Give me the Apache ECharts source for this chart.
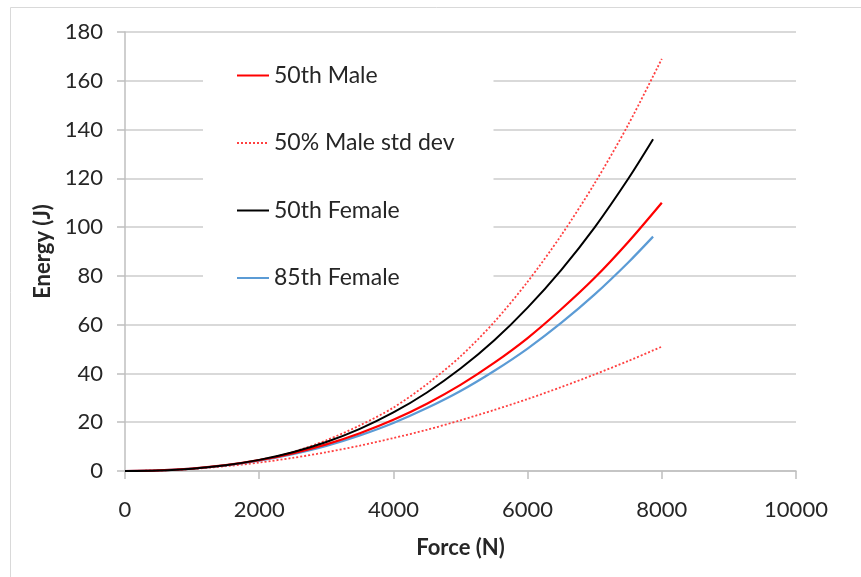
<!DOCTYPE html>
<html>
<head>
<meta charset="utf-8">
<script src="https://cdn.jsdelivr.net/npm/echarts@6/dist/echarts.min.js"></script>
<style>
html,body{margin:0;padding:0;background:#fff;}
#chart{width:861px;height:577px;}
</style>
</head>
<body>
<div id="chart"></div>
<script>
// Force (N) sample points
const forceMale = [0,500,1000,1500,2000,2500,3000,3500,4000,4500,5000,5500,6000,6500,7000,7500,8000];
const forceFemale = [0,500,1000,1500,2000,2500,3000,3500,4000,4500,5000,5500,6000,6500,7000,7500,7870];
// Energy (J) values
const male50 = [0,0.24,1.01,2.38,4.44,7.25,10.9,15.5,21.0,27.6,35.3,44.3,54.5,66.3,79.2,93.9,110.0];
const maleStdUpper = [0,0.2,0.9,2.25,4.5,7.8,12.6,18.7,26.0,35.6,47.0,61.0,77.6,96.6,118.0,142.0,169.0];
const maleStdLower = [0,0.22,0.88,1.96,3.47,5.38,7.69,10.4,13.5,16.9,20.8,25.0,29.5,34.4,39.6,45.1,51.0];
const female50 = [0,0.22,0.96,2.36,4.56,7.69,11.9,17.3,24.0,32.2,42.0,53.5,67.0,82.4,99.9,119.8,136.0];
const female85 = [0,0.24,0.98,2.31,4.26,6.92,10.3,14.6,19.7,25.8,32.8,41.0,50.2,60.7,72.4,85.5,96.1];
const legendNames = ['50th Male','50% Male std dev','50th Female','85th Female'];
const xTicks = {min:0, max:10000, interval:2000};
const yTicks = {min:0, max:180, interval:20};

function zip(xs, ys){ return xs.map((x,i)=>[x, ys[i]]); }

const chart = echarts.init(document.getElementById('chart'), null, {renderer:'canvas'});
const FONT = 'Lato';
const txt = '#262626';
chart.setOption({
  animation:false,
  backgroundColor:'#fff',
  graphic:[{type:'rect', shape:{x:10.5,y:7.5,width:900,height:620}, style:{fill:'none', stroke:'#d9d9d9', lineWidth:1}, z:-1}],
  grid:{left:125, right:65, top:32, bottom:106},
  legend:{
    data:legendNames,
    orient:'vertical', left:203, top:41,
    padding:[23,39,20,33],
    backgroundColor:'#fff',
    itemWidth:32, itemHeight:14, itemGap:44.5,
    itemStyle:{opacity:0},
    textStyle:{fontFamily:FONT, fontSize:23, color:txt, lineHeight:22}
  },
  xAxis:{
    type:'value', min:xTicks.min, max:xTicks.max, interval:xTicks.interval,
    name:'Force (N)', nameLocation:'middle', nameGap:66,
    nameTextStyle:{fontFamily:FONT, fontSize:22, fontWeight:'bold', color:txt},
    axisLine:{show:true, lineStyle:{color:'#bfbfbf', width:1.5}},
    axisTick:{show:true, length:8, lineStyle:{color:'#bfbfbf', width:1.5}},
    axisLabel:{fontFamily:FONT, fontSize:22, color:txt, margin:28, formatter:(v)=>String(v)},
    splitLine:{show:false}
  },
  yAxis:{
    type:'value', min:yTicks.min, max:yTicks.max, interval:yTicks.interval,
    name:'Energy (J)', nameLocation:'middle', nameGap:70, nameRotate:90,
    nameTextStyle:{fontFamily:FONT, fontSize:22, fontWeight:'bold', color:txt},
    axisLine:{show:true, lineStyle:{color:'#bfbfbf', width:1.5}},
    axisTick:{show:true, length:8, lineStyle:{color:'#bfbfbf', width:1.5}},
    axisLabel:{fontFamily:FONT, fontSize:22, color:txt, margin:22},
    splitLine:{show:true, lineStyle:{color:'#d9d9d9', width:2}}
  },
  series:[
    {name:legendNames[1], type:'line', data:zip(forceMale, maleStdLower), smooth:0.3, symbol:'none',
     lineStyle:{color:'#ff4040', width:1.8, type:[2,2]}, itemStyle:{color:'#ff4040'}},
    {name:legendNames[1], type:'line', data:zip(forceMale, maleStdUpper), smooth:0.3, symbol:'none',
     lineStyle:{color:'#ff4040', width:1.8, type:[2,2]}, itemStyle:{color:'#ff4040'}},
    {name:legendNames[3], type:'line', data:zip(forceFemale, female85), smooth:0.3, symbol:'none',
     lineStyle:{color:'#5b9bd5', width:2.2}, itemStyle:{color:'#5b9bd5'}},
    {name:legendNames[0], type:'line', data:zip(forceMale, male50), smooth:0.3, symbol:'none',
     lineStyle:{color:'#ff0000', width:2.2}, itemStyle:{color:'#ff0000'}},
    {name:legendNames[2], type:'line', data:zip(forceFemale, female50), smooth:0.3, symbol:'none',
     lineStyle:{color:'#000000', width:2}, itemStyle:{color:'#000000'}}
  ]
});
</script>
</body>
</html>
